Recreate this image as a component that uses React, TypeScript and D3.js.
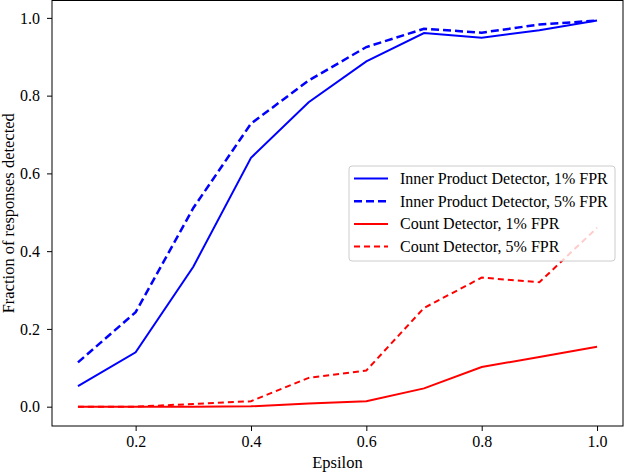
import React, { useEffect, useRef } from 'react';
import * as d3 from 'd3';

const epsilon = [0.1, 0.2, 0.3, 0.4, 0.5, 0.6, 0.7, 0.8, 0.9, 1.0];
const innerProduct1 = [0.053, 0.14, 0.36, 0.64, 0.783, 0.888, 0.961, 0.949, 0.968, 0.993];
const innerProduct5 = [0.114, 0.243, 0.511, 0.728, 0.839, 0.925, 0.972, 0.962, 0.983, 0.993];
const count1 = [0, 0, 0, 0.001, 0.008, 0.014, 0.047, 0.102, 0.128, 0.154];
const count5 = [0, 0, 0.007, 0.014, 0.074, 0.093, 0.254, 0.332, 0.32, 0.46];
const xTicks = [0.2, 0.4, 0.6, 0.8, 1.0];
const yTicks = [0.0, 0.2, 0.4, 0.6, 0.8, 1.0];

const seriesList = [
  { label: 'Inner Product Detector, 1% FPR', values: innerProduct1, color: '#0000ff', dash: null, width: 2 },
  { label: 'Inner Product Detector, 5% FPR', values: innerProduct5, color: '#0000ff', dash: '8,4', width: 2.5 },
  { label: 'Count Detector, 1% FPR', values: count1, color: '#ff0000', dash: null, width: 2 },
  { label: 'Count Detector, 5% FPR', values: count5, color: '#ff0000', dash: '6,4', width: 2 },
];

export default function App() {
  const svgRef = useRef<SVGSVGElement>(null);

  useEffect(() => {
    if (!svgRef.current) return;
    const width = 624;
    const height = 474;
    const margin = { top: 0.5, right: 1, bottom: 48, left: 52 };
    const font = '"Liberation Serif", "Times New Roman", serif';

    const svg = d3.select(svgRef.current);
    svg.selectAll('*').remove();

    const x = d3.scaleLinear().domain([0.055, 1.045]).range([margin.left, width - margin.right]);
    const y = d3.scaleLinear().domain([-0.0497, 1.0447]).range([height - margin.bottom, margin.top]);

    // Lines
    const line = d3.line<number>()
      .x((_, i) => x(epsilon[i]))
      .y(d => y(d));

    seriesList.forEach(s => {
      svg.append('path')
        .datum(s.values)
        .attr('fill', 'none')
        .attr('stroke', s.color)
        .attr('stroke-width', s.width)
        .attr('stroke-dasharray', s.dash)
        .attr('d', line);
    });

    // Axes
    const xAxis = svg.append('g')
      .attr('transform', `translate(0,${height - margin.bottom})`)
      .call(d3.axisBottom(x).tickValues(xTicks).tickFormat(d3.format('.1f')).tickSize(5).tickPadding(5));
    const yAxis = svg.append('g')
      .attr('transform', `translate(${margin.left},0)`)
      .call(d3.axisLeft(y).tickValues(yTicks).tickFormat(d3.format('.1f')).tickSize(5).tickPadding(7));
    [xAxis, yAxis].forEach(a => {
      a.select('.domain').remove();
      a.selectAll('line').attr('stroke', '#000').attr('stroke-width', 1);
      a.selectAll('text').attr('font-family', font).attr('font-size', 16).attr('fill', '#000');
    });

    // Frame
    svg.append('rect')
      .attr('x', margin.left)
      .attr('y', margin.top)
      .attr('width', width - margin.right - margin.left)
      .attr('height', height - margin.bottom - margin.top)
      .attr('fill', 'none')
      .attr('stroke', '#000')
      .attr('stroke-width', 1);

    // Axis labels
    svg.append('text')
      .attr('x', (margin.left + width - margin.right) / 2)
      .attr('y', 468)
      .attr('text-anchor', 'middle')
      .attr('font-family', font)
      .attr('font-size', 16.5)
      .text('Epsilon');

    svg.append('text')
      .attr('transform', `translate(13.5,${(margin.top + height - margin.bottom) / 2}) rotate(-90)`)
      .attr('text-anchor', 'middle')
      .attr('font-family', font)
      .attr('font-size', 16.5)
      .text('Fraction of responses detected');

    // Legend
    const lg = svg.append('g').attr('transform', 'translate(349,166)');
    lg.append('rect')
      .attr('width', 266)
      .attr('height', 95)
      .attr('rx', 3)
      .attr('fill', 'rgba(255,255,255,0.8)')
      .attr('stroke', '#cccccc')
      .attr('stroke-width', 1);
    seriesList.forEach((s, i) => {
      const yy = 12.5 + i * 22.7;
      lg.append('line')
        .attr('x1', 5).attr('x2', 39)
        .attr('y1', yy).attr('y2', yy)
        .attr('stroke', s.color)
        .attr('stroke-width', s.width)
        .attr('stroke-dasharray', s.dash);
      lg.append('text')
        .attr('x', 51)
        .attr('y', yy + 5.5)
        .attr('font-family', font)
        .attr('font-size', 16)
        .text(s.label);
    });
  }, []);

  return (
    <div style={{ position: 'absolute', left: 0, top: 0 }}>
      <svg ref={svgRef} width="624" height="474" style={{ display: 'block', background: '#fff' }} />
    </div>
  );
}
